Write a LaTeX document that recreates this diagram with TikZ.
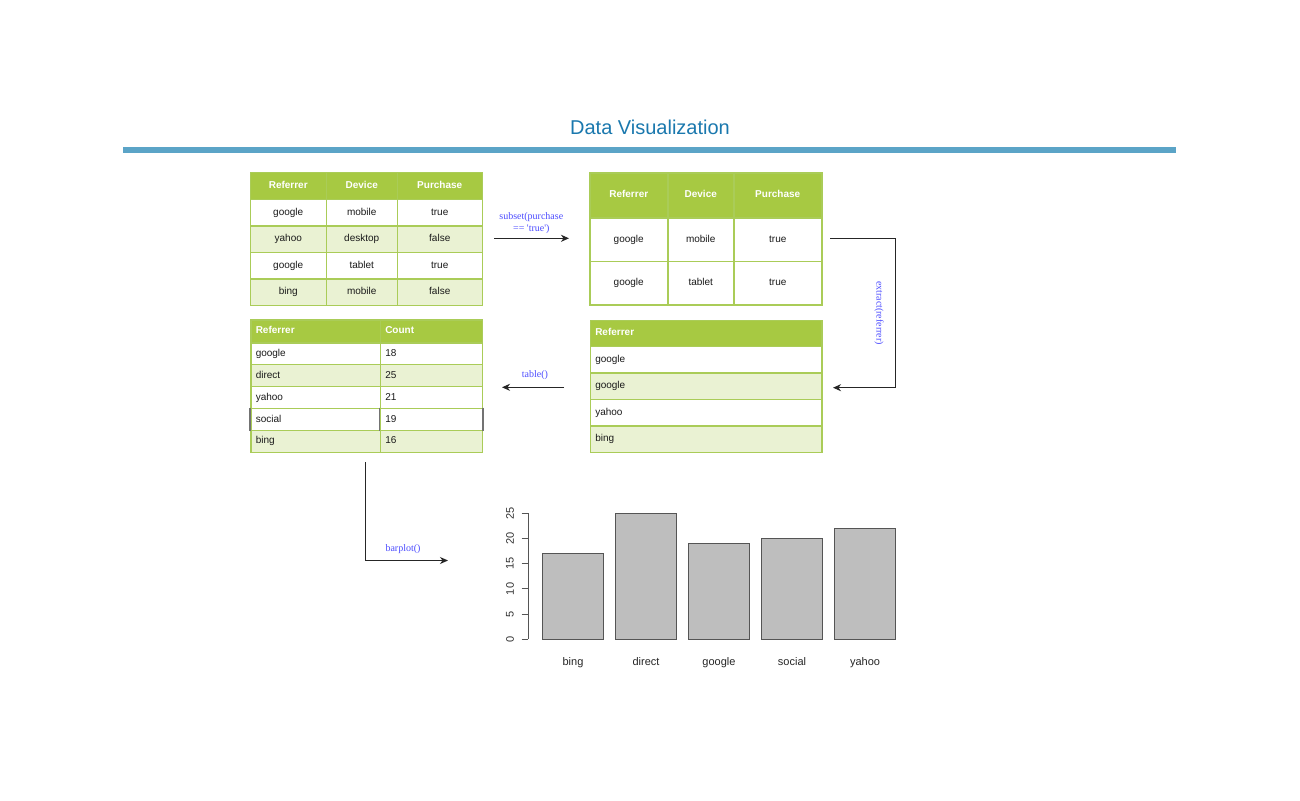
\documentclass[tikz,border=0pt]{standalone}
\usepackage{fontspec}
\setmainfont{Liberation Sans}
\newfontfamily\lserif{Liberation Serif}
\usetikzlibrary{arrows.meta}
\definecolor{hdrgreen}{HTML}{A7C942}
\definecolor{altgreen}{HTML}{EAF2D3}
\definecolor{bordergreen}{HTML}{AACC58}
\definecolor{titleblue}{HTML}{1A78AE}
\definecolor{rulerblue}{HTML}{5BA4C7}
\definecolor{lblblue}{HTML}{4D4DFF}
\definecolor{barfill}{HTML}{BEBEBE}
\definecolor{barline}{HTML}{555555}
\definecolor{celltext}{HTML}{1A1A1A}
\newcommand{\tcell}[7]{%
  \pgfmathsetmacro{\tcw}{#4-10}%
  \node[cellbase,#6,text width=\tcw pt,minimum height=#5pt] (#1) at (#2,#3) {#7};}
\begin{document}
\begin{tikzpicture}[x=1pt,y=-1pt,
  cellbase/.style={draw=bordergreen,line width=1.5pt,anchor=north west,
    inner xsep=5pt,inner ysep=0pt,text height=7.2pt,text depth=2pt,
    font=\fontsize{10}{12}\selectfont,text=celltext},
  hc/.style={fill=hdrgreen,text=white,font=\fontsize{10}{12}\selectfont\bfseries,align=center},
  hl/.style={fill=hdrgreen,text=white,font=\fontsize{10}{12}\selectfont\bfseries,align=left},
  wc/.style={fill=white,align=center},
  ac/.style={fill=altgreen,align=center},
  wl/.style={fill=white,align=left},
  al/.style={fill=altgreen,align=left},
  conn/.style={draw=black!85,line width=1pt,-{Stealth[length=8pt,width=7pt,inset=2.5pt]}},
  lbl/.style={font=\lserif\fontsize{10}{12}\selectfont,text=lblblue,inner sep=0pt,align=center},
  barstyle/.style={fill=barfill,draw=barline,line width=1.3pt},
  axisline/.style={draw=barline,line width=1pt},
  ylab/.style={font=\fontsize{11}{13}\selectfont,text=black!80,inner sep=0pt},
  xlab/.style={font=\fontsize{11}{13}\selectfont,text=black!85,inner sep=0pt}
]
\useasboundingbox[fill=white] (0,0) rectangle (1300,800);

% title and ruler
\node[font=\fontsize{20}{24}\selectfont,text=titleblue,anchor=base,inner sep=0pt] (title) at (650,134.5) {Data Visualization};
\fill[rulerblue] (123,147) rectangle (1176,152.5);

% table 1
\tcell{a-h1}{249.5}{171.5}{76}{27}{hc}{Referrer}
\tcell{a-h2}{325.5}{171.5}{71}{27}{hc}{Device}
\tcell{a-h3}{396.5}{171.5}{85}{27}{hc}{Purchase}
\tcell{a-11}{249.5}{198.5}{76}{26.5}{wc}{google}
\tcell{a-12}{325.5}{198.5}{71}{26.5}{wc}{mobile}
\tcell{a-13}{396.5}{198.5}{85}{26.5}{wc}{true}
\tcell{a-21}{249.5}{225}{76}{26.5}{ac}{yahoo}
\tcell{a-22}{325.5}{225}{71}{26.5}{ac}{desktop}
\tcell{a-23}{396.5}{225}{85}{26.5}{ac}{false}
\tcell{a-31}{249.5}{251.5}{76}{26.5}{wc}{google}
\tcell{a-32}{325.5}{251.5}{71}{26.5}{wc}{tablet}
\tcell{a-33}{396.5}{251.5}{85}{26.5}{wc}{true}
\tcell{a-41}{249.5}{278}{76}{26.5}{ac}{bing}
\tcell{a-42}{325.5}{278}{71}{26.5}{ac}{mobile}
\tcell{a-43}{396.5}{278}{85}{26.5}{ac}{false}

% table 2
\tcell{b-h1}{589}{172}{78}{45}{hc}{Referrer}
\tcell{b-h2}{667}{172}{66}{45}{hc}{Device}
\tcell{b-h3}{733}{172}{88}{45}{hc}{Purchase}
\tcell{b-11}{589}{217}{78}{43.5}{wc}{google}
\tcell{b-12}{667}{217}{66}{43.5}{wc}{mobile}
\tcell{b-13}{733}{217}{88}{43.5}{wc}{true}
\tcell{b-21}{589}{260.5}{78}{43.5}{wc}{google}
\tcell{b-22}{667}{260.5}{66}{43.5}{wc}{tablet}
\tcell{b-23}{733}{260.5}{88}{43.5}{wc}{true}

% table 3
\tcell{c-h1}{250}{319}{129.5}{23}{hl}{Referrer}
\tcell{c-h2}{379.5}{319}{102}{23}{hl}{Count}
\tcell{c-11}{250}{342}{129.5}{21.9}{wl}{google}
\tcell{c-12}{379.5}{342}{102}{21.9}{wl}{18}
\tcell{c-21}{250}{363.9}{129.5}{21.9}{al}{direct}
\tcell{c-22}{379.5}{363.9}{102}{21.9}{al}{25}
\tcell{c-31}{250}{385.8}{129.5}{21.9}{wl}{yahoo}
\tcell{c-32}{379.5}{385.8}{102}{21.9}{wl}{21}
\tcell{c-41}{250}{407.7}{129.5}{21.9}{wl}{social}
\tcell{c-42}{379.5}{407.7}{102}{21.9}{wl}{19}
\tcell{c-51}{250}{429.6}{129.5}{21.9}{al}{bing}
\tcell{c-52}{379.5}{429.6}{102}{21.9}{al}{16}
\draw[black!55,line width=1.5pt] (c-41.north west) -- (c-41.south west)
  (c-42.north west) -- (c-42.south west) (c-42.north east) -- (c-42.south east);

% table 4
\tcell{d-h1}{589.5}{319.5}{231.5}{26}{hl}{Referrer}
\tcell{d-11}{589.5}{345.5}{231.5}{26.5}{wl}{google}
\tcell{d-21}{589.5}{372}{231.5}{26.5}{al}{google}
\tcell{d-31}{589.5}{398.5}{231.5}{26.5}{wl}{yahoo}
\tcell{d-41}{589.5}{425}{231.5}{26.5}{al}{bing}

% connectors
\coordinate (s1) at (494,238.3);
\coordinate (s2) at (569,238.3);
\draw[conn] (s1) -- (s2);
\node[lbl] (lab-subset) at (531.3,223.5) {subset(purchase\\== \textquotesingle true\textquotesingle)};

\coordinate (e1) at (830,238.3);
\coordinate (e2) at (895.5,238.3);
\coordinate (e3) at (895.5,387.7);
\coordinate (e4) at (833,387.7);
\draw[conn] (e1) -- (e2) -- (e3) -- (e4);
\node[lbl,rotate=-90] (lab-extract) at (879,313) {extract(referrer)};

\coordinate (t1) at (564,387.3);
\coordinate (t2) at (502,387.3);
\draw[conn] (t1) -- (t2);
\node[lbl] (lab-table) at (535,375.5) {table()};

\coordinate (p1) at (365.5,462);
\coordinate (p2) at (365.5,560.5);
\coordinate (p3) at (448,560.5);
\draw[conn] (p1) -- (p2) -- (p3);
\node[lbl] (lab-barplot) at (403,549.5) {barplot()};

% bar chart
\draw[axisline] (528,513.3) -- (528,639.3);
\foreach \t in {0,5,...,25}{
  \draw[axisline] (521.7,{639.3-5.04*\t}) -- (528,{639.3-5.04*\t});
  \node[ylab,rotate=90] (yt-\t) at (510,{639.3-5.04*\t}) {\t};
}
\foreach \v/\n [count=\i from 0] in {17/bing,25/direct,19/google,20/social,22/yahoo}{
  \draw[barstyle] ({542.5+73*\i},639.3) rectangle ({603.5+73*\i},{639.3-5.04*\v});
  \node[xlab,anchor=base] (xl-\n) at ({573+73*\i},665) {\n};
}
\end{tikzpicture}
\end{document}
